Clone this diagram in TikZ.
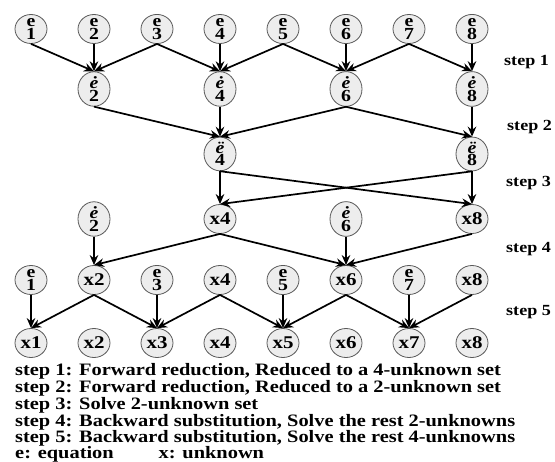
\documentclass[tikz,border=0pt]{standalone}
\usepackage{fontspec}
\setmainfont{Liberation Serif}
\usetikzlibrary{arrows.meta,shapes.geometric}
\newcommand{\hsx}[1]{\scalebox{1.17}[1]{#1}}
\tikzset{
 circ/.style={ellipse, draw=black!65, line width=0.8bp, fill=black!7, minimum width=32bp, minimum height=29bp, inner sep=0pt},
 elab/.style={circ, align=center, font=\bfseries\fontsize{17}{12.5}\selectfont},
 xlab/.style={circ, font=\bfseries\fontsize{18}{18}\selectfont},
 arr/.style={line width=1.7bp, -{Stealth[length=10bp,width=8.5bp]}},
 steplab/.style={anchor=base west, font=\bfseries\fontsize{15.5}{16}\selectfont, inner sep=0pt},
 legend/.style={anchor=base west, font=\bfseries\fontsize{17.5}{18}\selectfont, inner sep=0pt},
}
\begin{document}
\begin{tikzpicture}[x=1bp,y=-1bp]
\useasboundingbox (0,0) rectangle (555,462);
% row 1
\foreach \i/\xx in {1/31,2/94,3/157,4/220,5/283,6/346,7/409,8/472}
  \node[elab] (a\i) at (\xx,29) {\hsx{e}\\\hsx{\i}};
% row 2
\foreach \i/\xx in {2/94,4/220,6/346,8/472}
  \node[elab] (b\i) at (\xx,89) {\hsx{\textit{ė}}\\\hsx{\i}};
% row 3
\node[elab] (c4) at (220,154) {\hsx{\textit{ë}}\\\hsx{4}};
\node[elab] (c8) at (472,154) {\hsx{\textit{ë}}\\\hsx{8}};
% row 4
\node[elab] (d2) at (94,219) {\hsx{\textit{ė}}\\\hsx{2}};
\node[xlab] (d4) at (220,219) {\hsx{x4}};
\node[elab] (d6) at (346,219) {\hsx{\textit{ė}}\\\hsx{6}};
\node[xlab] (d8) at (472,219) {\hsx{x8}};
% row 5
\node[elab] (f1) at (31,280) {\hsx{e}\\\hsx{1}};
\node[xlab] (f2) at (94,280) {\hsx{x2}};
\node[elab] (f3) at (157,280) {\hsx{e}\\\hsx{3}};
\node[xlab] (f4) at (220,280) {\hsx{x4}};
\node[elab] (f5) at (283,280) {\hsx{e}\\\hsx{5}};
\node[xlab] (f6) at (346,280) {\hsx{x6}};
\node[elab] (f7) at (409,280) {\hsx{e}\\\hsx{7}};
\node[xlab] (f8) at (472,280) {\hsx{x8}};
% row 6
\foreach \i/\xx in {1/31,2/94,3/157,4/220,5/283,6/346,7/409,8/472}
  \node[xlab] (g\i) at (\xx,343) {\hsx{x\i}};
% step 1
\foreach \s/\t in {a1/b2,a2/b2,a3/b2,a3/b4,a4/b4,a5/b4,a5/b6,a6/b6,a7/b6,a7/b8,a8/b8}
  \draw[arr] (\s.south) -- (\t.north);
% step 2
\foreach \s/\t in {b2/c4,b4/c4,b6/c4,b6/c8,b8/c8}
  \draw[arr] (\s.south) -- (\t.north);
% step 3
\foreach \s/\t in {c4/d4,c4/d8,c8/d4,c8/d8}
  \draw[arr] (\s.south) -- (\t.north);
% step 4
\foreach \s/\t in {d2/f2,d4/f2,d4/f6,d6/f6,d8/f6}
  \draw[arr] (\s.south) -- (\t.north);
% step 5
\foreach \s/\t in {f1/g1,f2/g1,f2/g3,f3/g3,f4/g3,f4/g5,f5/g5,f6/g5,f6/g7,f7/g7,f8/g7}
  \draw[arr] (\s.south) -- (\t.north);
% step labels
\node[steplab] (s1) at (504,66) {\hsx{step 1}};
\node[steplab] (s2) at (507,131) {\hsx{step 2}};
\node[steplab] (s3) at (506,187) {\hsx{step 3}};
\node[steplab] (s4) at (506,253) {\hsx{step 4}};
\node[steplab] (s5) at (506,315) {\hsx{step 5}};
% legend
\node[legend] (l1) at (15,375) {\hsx{step 1: Forward reduction, Reduced to a 4-unknown set}};
\node[legend] (l2) at (15,392) {\hsx{step 2: Forward reduction, Reduced to a 2-unknown set}};
\node[legend] (l3) at (15,409) {\hsx{step 3: Solve 2-unknown set}};
\node[legend] (l4) at (15,426) {\hsx{step 4: Backward substitution, Solve the rest 2-unknowns}};
\node[legend] (l5) at (15,442) {\hsx{step 5: Backward substitution, Solve the rest 4-unknowns}};
\node[legend] (l6) at (15,458) {\hsx{e: equation\hspace{2.2em}x: unknown}};
\end{tikzpicture}
\end{document}
